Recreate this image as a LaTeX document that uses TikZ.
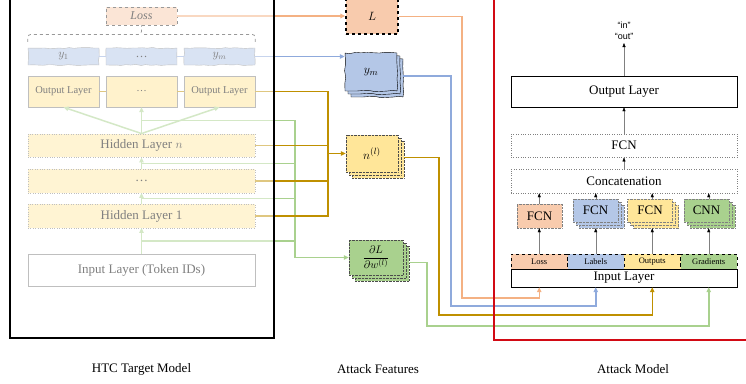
\documentclass[tikz,border=0pt]{standalone}
\usepackage{fontspec}
\setmainfont{Liberation Serif}
\newfontfamily\quotefont{Liberation Sans}
\usetikzlibrary{positioning,calc,arrows.meta,shadows,decorations.pathmorphing}

\definecolor{lossred}{RGB}{248,203,173}
\definecolor{lossorange}{RGB}{244,177,131}
\definecolor{labblue}{RGB}{180,199,231}
\definecolor{labline}{RGB}{143,170,220}
\definecolor{outyel}{RGB}{255,230,153}
\definecolor{outgold}{RGB}{191,144,0}
\definecolor{gradgrn}{RGB}{169,209,142}
\definecolor{atkred}{RGB}{210,10,20}

\tikzset{
  outbox/.style={draw=gray, fill=outyel, minimum width=71pt, minimum height=31pt,
    font=\fontsize{10.5}{12}\selectfont},
  ybox/.style={draw=gray, fill=labblue, minimum width=71pt, minimum height=17pt,
    decorate, decoration={random steps,segment length=5pt,amplitude=.5pt},
    font=\fontsize{12}{14}\selectfont},
  hidbox/.style={draw=gray, dotted, fill=outyel!85, minimum width=227pt, minimum height=23.5pt},
  inbox/.style={draw=gray, fill=white, minimum width=227pt, minimum height=32pt},
  lossbox/.style={draw=black!80, dashed, thick, fill=lossred, minimum width=71pt,
    minimum height=18pt, font=\fontsize{12}{14}\selectfont\itshape},
  brace/.style={draw=black!80, dashed, thick, rounded corners=3pt},
  Lbox/.style={draw, dashed, line width=1.3pt, fill=lossred, minimum width=52pt, minimum height=35pt},
  ymstack/.style={draw, fill=labblue, minimum width=52pt, minimum height=38pt,
    decorate, decoration={random steps,segment length=6pt,amplitude=.7pt},
    double copy shadow={shadow xshift=3pt,shadow yshift=-3pt}},
  nstack/.style={draw=black!70, densely dotted, fill=outyel, minimum width=52pt, minimum height=37pt,
    double copy shadow={shadow xshift=3pt,shadow yshift=-3pt}},
  gstack/.style={draw=black!70, densely dotted, fill=gradgrn, minimum width=54pt, minimum height=35pt,
    font=\fontsize{11}{13}\selectfont,
    double copy shadow={shadow xshift=3pt,shadow yshift=-3pt}},
  abox/.style={minimum width=226pt, minimum height=23.5pt},
  subnet/.style={draw=gray, densely dotted, minimum width=45pt, minimum height=23pt},
  substack/.style={subnet, double copy shadow={shadow xshift=3pt,shadow yshift=-3pt}},
  featbox/.style={draw, dashed, minimum width=56.5pt, minimum height=15pt,
    font=\fontsize{8.5}{10}\selectfont},
  lline/.style={draw=lossorange, line width=1.5pt},
  bline/.style={draw=labline, line width=1.5pt},
  oline/.style={draw=outgold, line width=1.5pt},
  gline/.style={draw=gradgrn, line width=1.5pt},
  aarrow/.style={draw=gray, -{Triangle[length=4pt,width=3pt,black]}},
}

\begin{document}
\begin{tikzpicture}[x=1pt,y=-1pt,node distance=35pt,on grid,
    >={Triangle[length=5pt,width=4.5pt]},
    font=\fontsize{13}{15}\selectfont,
    every node/.style={inner sep=1pt}]
  \useasboundingbox (0,0) rectangle (746,383);

  % HTC target model
  \node[hidbox] (hidn) at (141.5,145.5) {Hidden Layer $n$};
  \node[hidbox] (hiddots) [below=35.5pt of hidn] {\dots};
  \node[hidbox] (hid1) [below=of hiddots] {Hidden Layer 1};
  \node[inbox] (input) [below=54pt of hid1] {Input Layer (Token IDs)};
  \node[outbox] (outdots) [above=54pt of hidn] {\dots};
  \node[outbox] (out1) [left=78pt of outdots] {Output Layer};
  \node[outbox] (outm) [right=78pt of outdots] {Output Layer};
  \node[ybox] (ydots) [above=of outdots] {\dots};
  \node[ybox] (y1) [left=78pt of ydots] {$y_1$};
  \node[ybox] (ym) [right=78pt of ydots] {$y_m$};
  \node[lossbox] (loss) [above=40.5pt of ydots] {Loss};
  \draw[brace] ($(y1.north west)+(0,-6)$) |- ($(loss.south)+(0,9)$) -- (loss.south);
  \draw[brace] ($(ym.north east)+(0,-6)$) |- ($(loss.south)+(0,9)$);

  % attack features
  \node[Lbox] (Lf) at (372,16.5) {$L$};
  \node[ymstack] (ymf) at (371,72) {$y_m$};
  \node[nstack] (nf) at (372,153.5) {$n^{(l)}$};
  \node[gstack] (gf) at (376,257.5) {$\displaystyle\frac{\partial L}{\partial w^{(l)}}$};

  % attack model
  \node[abox, draw, minimum height=31pt] (aout) at (624,91.5) {Output Layer};
  \node[abox, draw=gray, dotted] (afcn) [below=54pt of aout] {FCN};
  \node[abox, draw=gray, dotted, minimum height=24pt] (concat) [below=35.5pt of afcn] {Concatenation};
  \node[font=\quotefont\fontsize{9}{11}\selectfont, align=center, inner sep=3pt] (res) at (624,31) {“in”\\“out”};
  \node[draw, minimum width=226pt, minimum height=18pt] (ainput) at (624,278) {Input Layer};
  \node[featbox, fill=lossred] (floss) at (539.25,261.5) {Loss};
  \node[featbox, fill=labblue] (flab) [right=56.5pt of floss] {Labels};
  \node[featbox, fill=outyel] (fout) [right=56.5pt of flab] {Outputs};
  \node[featbox, fill=gradgrn] (fgrad) [right=56.5pt of fout] {Gradients};
  \node[subnet, fill=lossred, minimum height=24pt] (fcn1) at (539.5,216) {FCN};
  \node[substack, fill=labblue] (fcn2) at (595.5,210.5) {FCN};
  \node[substack, fill=outyel] (fcn3) at (650,210.5) {FCN};
  \node[substack, fill=gradgrn] (cnn) at (706.5,210.5) {CNN};
  \coordinate (fcn2b) at ($(fcn2.south)+(0,6)$);
  \coordinate (fcn3b) at ($(fcn3.south)+(0,6)$);
  \coordinate (cnnb) at ($(cnn.south)+(0,6)$);

  \draw[aarrow] (aout) -- (res);
  \draw[aarrow] (afcn) -- (aout);
  \draw[aarrow] (concat) -- (afcn);
  \draw[aarrow] (fcn1.north -| floss) -- (concat.south -| floss);
  \draw[aarrow] (fcn2.north -| flab) -- (concat.south -| flab);
  \draw[aarrow] (fcn3.north -| fout) -- (concat.south -| fout);
  \draw[aarrow] (cnn.north -| fgrad) -- (concat.south -| fgrad);
  \draw[aarrow] (floss) -- (fcn1.south -| floss);
  \draw[aarrow] (flab) -- (fcn2b -| flab);
  \draw[aarrow] (fout) -- (fcn3b -| fout);
  \draw[aarrow] (fgrad) -- (cnnb -| fgrad);

  % green: gradients
  \coordinate (gtap1) at ($(hidn.north)!.5!(outdots.south)$);
  \coordinate (gtap2) at ($(hiddots.north)!.5!(hidn.south)$);
  \coordinate (gtap3) at ($(hid1.north)!.5!(hiddots.south)$);
  \coordinate (gtap4) at ($(input.north)!.5!(hid1.south)$);
  \coordinate (gradbus) at (295,0);
  \coordinate (gbend) at (427,326);
  \draw[gline,->] (input) -- (hid1);
  \draw[gline,->] (hid1) -- (hiddots);
  \draw[gline,->] (hiddots) -- (hidn);
  \draw[gline,->] (hidn.north) -- (out1.south);
  \draw[gline,->] (hidn.north) -- (outdots.south);
  \draw[gline,->] (hidn.north) -- (outm.south);
  \draw[gline,->] (gtap1) -| (gradbus |- gf.west) -- (gf.west);
  \draw[gline] (gtap2) -- (gtap2 -| gradbus);
  \draw[gline] (gtap3) -- (gtap3 -| gradbus);
  \draw[gline] (gtap4) -- (gtap4 -| gradbus);
  \draw[gline,->] ($(gf.east)+(6,5)$) -| (gbend) -| (fgrad |- ainput.south);

  % gold: outputs
  \coordinate (gbus) at (328,0);
  \coordinate (obend) at (439,315);
  \draw[oline,line width=.8pt] (out1) -- (outdots) (outdots) -- (outm);
  \draw[oline] (outm.east) -| (gbus |- hid1.east) -- (hid1.east);
  \draw[oline] (hidn.east) -- (hidn.east -| gbus);
  \draw[oline] (hiddots.east) -- (hiddots.east -| gbus);
  \draw[oline,->] (gbus |- nf.west) -- (nf.west);
  \draw[oline,->] ($(nf.east)+(6,4)$) -| (obend) -| (fout |- ainput.south);

  % blue: labels
  \coordinate (bbend) at (451,306);
  \draw[bline,line width=.8pt] (y1) -- (ydots) (ydots) -- (ym);
  \draw[bline,->] (ym.east) -- (ym.east -| ymf.west);
  \draw[bline,->] ($(ymf.east)+(6,4)$) -| (bbend) -| (flab |- ainput.south);

  % orange: loss
  \coordinate (lbend) at (462,298);
  \draw[lline,->] (loss.east) -- (loss.east -| Lf.west);
  \draw[lline,->] (Lf.east) -| (lbend) -| (floss |- ainput.south);

  % frames
  \fill[white, fill opacity=.5] (10,-3) rectangle (274,338);
  \draw[line width=2pt] (10,-3) rectangle (274,338);
  \draw[atkred, line width=2pt] (494,-1) rectangle (770,340);

  \node (capt) at (141.5,369) {HTC Target Model};
  \node (capf) at (378,369) {Attack Features};
  \node (capa) at (633,369) {Attack Model};
\end{tikzpicture}
\end{document}
